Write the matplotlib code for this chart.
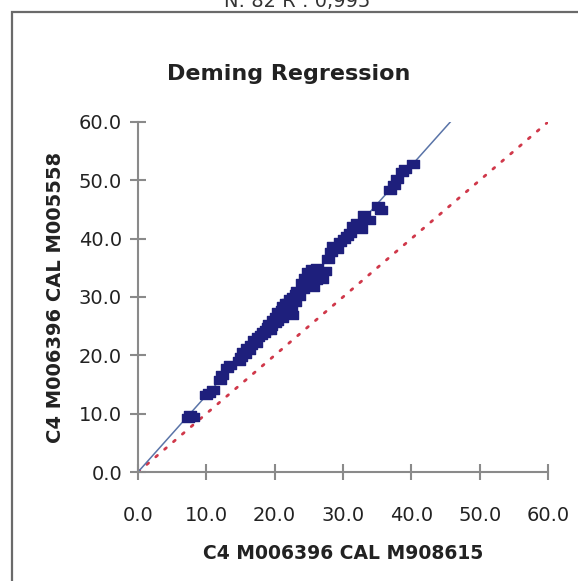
import matplotlib
matplotlib.use('Agg')
import matplotlib.pyplot as plt
from matplotlib.path import Path
from matplotlib.patches import Rectangle

# method comparison data
x_ref = [7.3, 7.6, 8.0,
         10.0, 10.4, 11.0,
         12.0, 12.3, 13.0, 13.4,
         14.8, 15.1, 15.3, 15.6, 16.0, 16.2, 16.6,
         17.0, 17.3, 17.6, 18.0, 18.3, 18.7, 19.0, 19.2, 19.5, 19.8,
         20.0, 20.2, 20.4, 20.7, 21.0, 21.2, 21.4, 21.7, 22.0, 22.2, 22.4, 22.7, 23.0, 23.3,
         23.6, 24.0, 24.2, 24.5, 24.9, 25.2, 25.6, 26.0, 26.4, 26.9, 27.4,
         27.8, 28.3, 28.6, 29.1, 29.6, 30.1, 30.6, 31.0, 31.5, 32.0, 32.6, 33.0, 33.8,
         35.1, 35.6, 36.9, 37.4, 37.9, 38.6, 39.0, 40.3,
         18.5, 19.3, 20.5, 21.1, 21.9, 22.5, 23.1, 24.7, 25.4, 26.2]
y_new = [9.3, 9.7, 9.5,
         13.2, 13.6, 14.0,
         15.8, 16.6, 17.9, 18.3,
         19.0, 19.8, 20.6, 20.2, 21.3, 20.9, 21.8,
         22.6, 22.2, 23.1, 23.5, 24.0, 24.4, 24.9, 25.3, 25.0, 26.1,
         25.6, 26.5, 25.9, 27.0, 26.4, 28.4, 27.3, 28.9, 27.8, 29.6, 28.2, 30.0, 29.2, 31.0,
         30.2, 32.4, 31.4, 33.2, 34.3, 33.6, 31.8, 32.9, 33.4, 33.1, 34.4,
         36.6, 37.8, 38.7, 38.2, 39.4, 39.9, 40.4, 41.0, 42.2, 42.7, 41.6, 44.0, 43.2,
         45.6, 44.9, 48.4, 49.2, 50.3, 51.4, 51.9, 52.8,
         23.8, 24.3, 27.4, 27.7, 29.0, 27.0, 30.6, 32.1, 34.8, 35.0]

# fitted deming line and identity line
fit_x = [0.0, 45.7]
fit_y = [0.0, 60.0]
ident_x = [0.0, 60.0]
ident_y = [0.0, 60.0]

ticks = [0, 10, 20, 30, 40, 50, 60]
tick_labels = ['0.0', '10.0', '20.0', '30.0', '40.0', '50.0', '60.0']

W, H = 578, 581
fig = plt.figure(figsize=(W/100, H/100), dpi=100)

# outer frame
fig.patches.append(Rectangle((12/W, -0.01), 1.02 - 12/W, 1.01 - 12/H, transform=fig.transFigure,
                             fill=False, ec='#6a6a6a', lw=1.6))

fig.text(297/W, 1 - 7/H, 'N: 82 R : 0,995', ha='center', va='baseline', fontsize=14, color='#333333')
fig.text(289/W, 1 - 80/H, 'Deming Regression', ha='center', va='baseline', fontsize=16,
         fontweight='bold', color='#222222')

ax = fig.add_axes([138/W, 1 - 472/H, 410/W, 350/H])

rect = Path([(-1, -0.62), (1, -0.62), (1, 0.62), (-1, 0.62), (-1, -0.62)])
ax.plot(ident_x, ident_y, color='#d0384a', lw=2.0, linestyle=(0, (0.8, 3.4)), dash_capstyle='round')
ax.plot(fit_x, fit_y, color='#5a74a8', lw=1.1)
ax.plot(x_ref, y_new, linestyle='None', marker=rect, ms=9, color='#1e1f7c', mec='#1e1f7c')

ax.set_xlim(0, 60)
ax.set_ylim(0, 60)
ax.set_xticks(ticks)
ax.set_xticklabels(tick_labels)
ax.set_yticks(ticks)
ax.set_yticklabels(tick_labels)
for s in ['top', 'right']:
    ax.spines[s].set_visible(False)
for s in ['left', 'bottom']:
    ax.spines[s].set_color('#8a8a8a')
    ax.spines[s].set_linewidth(1.5)
ax.tick_params(axis='both', direction='inout', length=11, width=1.5, color='#8a8a8a',
               labelsize=14, labelcolor='#222222')
ax.tick_params(axis='x', pad=19)
ax.tick_params(axis='y', pad=6)

ax.set_xlabel('C4 M006396 CAL M908615', fontsize=13.5, fontweight='bold', color='#222222', labelpad=14)
ax.set_ylabel('C4 M006396 CAL M005558', fontsize=14, fontweight='bold', color='#222222', labelpad=10)

fig.savefig('out.png', dpi=100)
